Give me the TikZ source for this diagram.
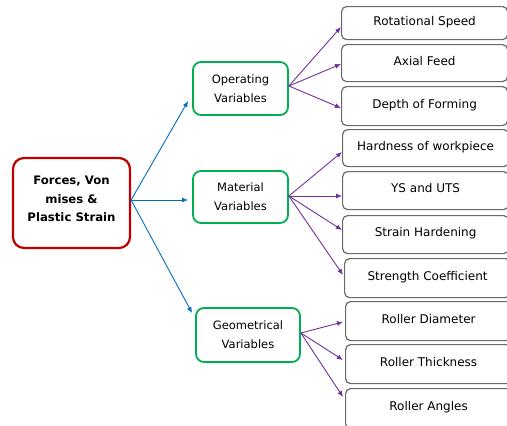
\documentclass[tikz,border=0pt]{standalone}
\usepackage{fontspec}
\setmainfont{DejaVu Sans}
\usetikzlibrary{arrows.meta,calc}
\definecolor{redb}{RGB}{192,0,0}
\definecolor{greenb}{RGB}{0,176,80}
\definecolor{blueA}{RGB}{0,112,192}
\definecolor{purpA}{RGB}{112,48,160}
\definecolor{grayb}{RGB}{105,105,105}
\begin{document}
\begin{tikzpicture}[x=1pt,y=-1pt,
  rootbox/.style={draw=redb, line width=2.2pt, rounded corners=11pt, minimum width=117pt, minimum height=90pt, inner sep=0pt},
  roottext/.style={align=center, font=\bfseries\fontsize{11.7}{18.7}\selectfont, inner sep=0pt},
  midbox/.style={draw=greenb, line width=1.8pt, rounded corners=8pt, align=center, font=\fontsize{11.5}{19}\selectfont, inner sep=0pt},
  leaf/.style={draw=grayb, line width=1.2pt, rounded corners=5pt, font=\fontsize{12}{14}\selectfont, anchor=north west, inner sep=0pt, text height=8pt, text depth=4.2pt, minimum width=166pt},
  bluearrow/.style={draw=blueA, line width=0.9pt, -{Latex[length=6pt,width=5pt]}},
  purparrow/.style={draw=purpA, line width=0.9pt, -{Latex[length=6pt,width=5pt]}},
]
\useasboundingbox (0,0) rectangle (507,426);
\fill[white] (0,0) rectangle (507,426);
\clip (0,0) rectangle (507,426);

% root
\node[rootbox] (c) at (71.5,203) {};
\node[roottext] (ct) at (71.5,199) {Forces, Von\\mises \&\\Plastic Strain};

% middle
\node[midbox, minimum width=95pt, minimum height=53pt] (op) at (240.5,88.5) {Operating\\Variables};
\node[midbox, minimum width=95pt, minimum height=52pt] (mat) at (240.5,197) {Material\\Variables};
\node[midbox, minimum width=104pt, minimum height=54pt] (geo) at (248,335) {Geometrical\\Variables};

% leaves
\node[leaf, minimum height=33pt] (r1) at (341,6) {Rotational Speed};
\node[leaf, minimum height=37pt] (r2) at (341,44) {Axial Feed};
\node[leaf, minimum height=39pt] (r3) at (341,86) {Depth of Forming};
\node[leaf, minimum height=37pt] (r4) at (342,129) {Hardness of workpiece};
\node[leaf, minimum height=38pt] (r5) at (342,171) {YS and UTS};
\node[leaf, minimum height=38pt] (r6) at (342,215) {Strain Hardening};
\node[leaf, minimum height=39pt] (r7) at (344,258) {Strength Coefficient};
\node[leaf, minimum height=39pt] (r8) at (345,301) {Roller Diameter};
\node[leaf, minimum height=39pt] (r9) at (345,344) {Roller Thickness};
\node[leaf, minimum height=40pt] (r10) at (345,388) {Roller Angles};

% blue connectors
\coordinate (s0) at (c.east |- 0,200);
\draw[bluearrow] (s0) -- ($(op.west |- 0,101)+(-4,0)$);
\draw[bluearrow] (s0) -- ($(mat.west |- 0,200)+(-4,0)$);
\draw[bluearrow] (s0) -- ($(geo.west |- 0,313)+(-3,0)$);

% purple connectors
\coordinate (so) at (op.east |- 0,86);
\draw[purparrow] (so) -- (r1.west |- 0,27);
\draw[purparrow] (so) -- (r2.west |- 0,64);
\draw[purparrow] (so) -- (r3.west |- 0,108);

\coordinate (sm) at (mat.east |- 0,196);
\draw[purparrow] (sm) -- (r4.west |- 0,152);
\draw[purparrow] (sm) -- (r5.west |- 0,196);
\draw[purparrow] (sm) -- (r6.west |- 0,230);
\draw[purparrow] (sm) -- ($(r7.west |- 0,275)+(-1,0)$);

\coordinate (sg) at (geo.east |- 0,333);
\draw[purparrow] (sg) -- ($(r8.west |- 0,322)+(-2,0)$);
\draw[purparrow] (sg) -- ($(r9.west |- 0,360)+(-2,0)$);
\draw[purparrow] (sg) -- ($(r10.west |- 0,397)+(-2,0)$);
\end{tikzpicture}
\end{document}
